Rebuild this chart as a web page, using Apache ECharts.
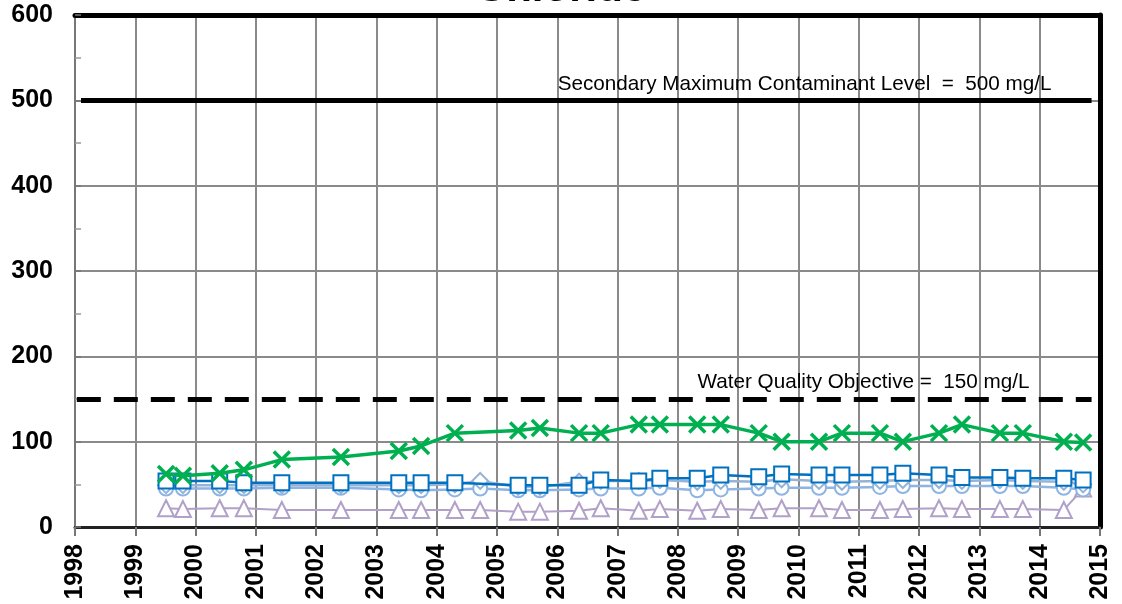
<!DOCTYPE html>
<html><head><meta charset="utf-8">
<script src="https://cdn.jsdelivr.net/npm/echarts@6/dist/echarts.min.js"></script>
<style>html,body{margin:0;padding:0;background:#fff}#c{width:1122px;height:604px}</style>
</head><body><div id="c"></div>
<script>
const titleText = 'Chloride';
const dates = [1999.51, 1999.79, 2000.40, 2000.80, 2001.43, 2002.41, 2003.37, 2003.74, 2004.30, 2004.72,
  2005.35, 2005.71, 2006.36, 2006.72, 2007.35, 2007.70, 2008.32, 2008.71, 2009.34, 2009.72,
  2010.34, 2010.72, 2011.35, 2011.73, 2012.33, 2012.71, 2013.34, 2013.72, 2014.40, 2014.72];
const greenVals = [62,60,63,67,79,82,89,95,110,null,113,116,110,110,120,120,120,120,110,100,100,110,110,100,110,120,110,110,100,99];
const squareVals = [54,54,54,52,52,52,52,52,52,null,49,49,49,55,54,57,57,61,59,62,61,61,61,63,61,58,58,57,57,55];
const diamondVals = [49,49,49,49,49,49,49,49,50,54,47,47,53,54,54,55,53,54,53,56,54,53,54,55,55,54,55,54,53,50];
const circleVals = [45,45,45,45,46,46,44,43,44,45,43,43,44,45,45,46,43,44,45,46,46,46,47,48,48,48,48,48,46,44];
const triangleVals = [22,21,22,22,20,20,20,20,20,20,18,18,19,22,19,21,19,21,20,22,22,20,20,21,22,21,21,21,20,45];
const yTicks = [0,100,200,300,400,500,600];
const xMin = 1998, xMax = 2015;
const smclValue = 500, smclLabel = 'Secondary Maximum Contaminant Level  =  500 mg/L';
const wqoValue = 150, wqoLabel = 'Water Quality Objective =  150 mg/L';
const refStart = [1998.1, 1998.03], refEnd = [2014.86, 2014.86];

function pairs(vals){ return dates.map((d,i)=>[d, vals[i]]); }
const FONT = 'Liberation Sans, Arial, sans-serif';
const xPath = 'path://M0,0L10,10M10,0L0,10';

const chart = echarts.init(document.getElementById('c'));
function mkSeries(name, vals, color, symbol, size, lw, z){
  return {name, type:'line', data:pairs(vals), connectNulls:true, symbol, symbolSize:size,
    lineStyle:{color, width:lw}, itemStyle:{color, borderColor:color, borderWidth:3.5},
    z, animation:false};
}
const triS = mkSeries('T', triangleVals, '#b1a0c7', 'emptyTriangle', 16, 2, 2);
triS.markLine = {symbol:'none', silent:true, animation:false,
  data:[
    [{coord:[refStart[0], smclValue], lineStyle:{color:'#000', width:5, type:'solid'},
      label:{show:true, position:'insideEndTop', formatter:smclLabel, distance:[40,6], color:'#000', fontSize:20.7, fontFamily:FONT}},
     {coord:[refEnd[0], smclValue]}],
    [{coord:[refStart[1], wqoValue], lineStyle:{color:'#000', width:5, type:[24,13]},
      label:{show:true, position:'insideEndTop', formatter:wqoLabel, distance:[62,6], color:'#000', fontSize:20.7, fontFamily:FONT}},
     {coord:[refEnd[1], wqoValue]}]
  ]};
const series = [
  triS,
  mkSeries('C', circleVals, '#8db4e2', 'emptyCircle', 14, 2.5, 3),
  mkSeries('D', diamondVals, '#95b3d7', 'emptyDiamond', 16, 2.5, 4),
  mkSeries('S', squareVals, '#0070c0', 'emptyRect', 15, 2.5, 5),
  Object.assign(mkSeries('G', greenVals, '#00b050', xPath, 16, 3.5, 6), {itemStyle:{color:'#00b050', borderColor:'#00b050', borderWidth:3.5}})
];
chart.setOption({
  backgroundColor:'#fff',
  animation:false,
  title:{text:titleText, left:'center', top:-37, textStyle:{fontSize:42, fontWeight:'bold', fontFamily:FONT, color:'#000'}},
  grid:{left:75, right:22, top:15, bottom:77, containLabel:false},
  xAxis:[{type:'value', min:xMin, max:xMax, interval:1,
    axisLine:{show:true, onZero:false, lineStyle:{color:'#222', width:3}},
    axisTick:{show:true, inside:false, length:9, lineStyle:{color:'#777', width:2}},
    axisLabel:{rotate:90, margin:17, fontSize:25, fontWeight:'bold', fontFamily:FONT, color:'#000', formatter:v=>String(v)},
    splitLine:{show:true, lineStyle:{color:'#8a8a8a', width:2}}},
   {type:'value', position:'top', min:xMin, max:xMax, interval:1,
    axisLine:{show:true, onZero:false, lineStyle:{color:'#000', width:5}}, axisTick:{show:false}, axisLabel:{show:false}, splitLine:{show:false}}],
  yAxis:[{type:'value', min:0, max:600, interval:100,
    axisLine:{show:true, onZero:false, lineStyle:{color:'#777', width:2}},
    axisTick:{show:true, inside:true, length:6, lineStyle:{color:'#777', width:1.5}},
    minorTick:{show:true, splitNumber:2, length:6, lineStyle:{color:'#999', width:1.5}},
    axisLabel:{margin:22, fontSize:25, fontWeight:'bold', fontFamily:FONT, color:'#000', formatter:v=>yTicks.includes(v)?String(v):''},
    splitLine:{show:true, lineStyle:{color:'#8a8a8a', width:2}}},
   {type:'value', position:'right', min:0, max:600, interval:100,
    axisLine:{show:true, onZero:false, lineStyle:{color:'#000', width:5}}, axisTick:{show:false}, axisLabel:{show:false}, splitLine:{show:false}}],
  series
});
</script></body></html>
